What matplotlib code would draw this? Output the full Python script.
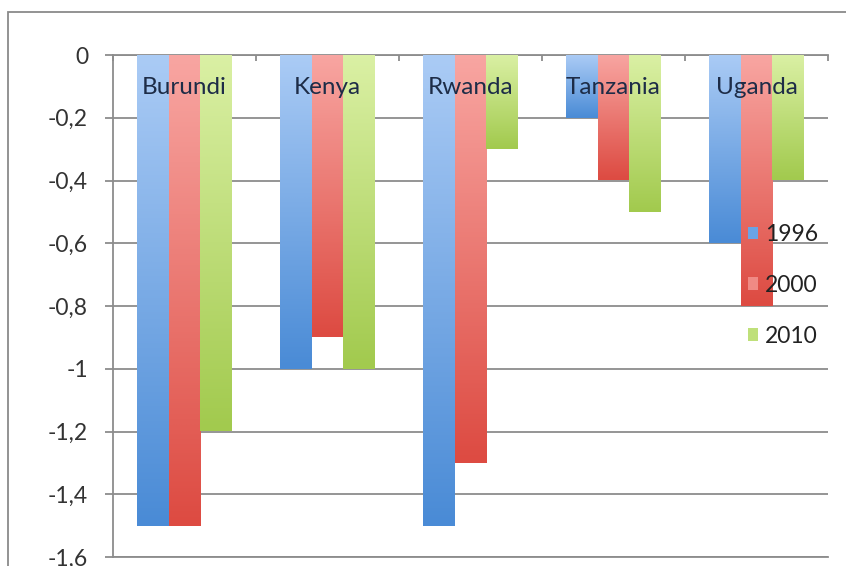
import numpy as np
import matplotlib.pyplot as plt
from matplotlib.colors import LinearSegmentedColormap
from matplotlib.patches import Rectangle, Patch

plt.rcParams['font.family'] = ['Lato', 'DejaVu Sans']

# change per country and year
countries = ["Burundi", "Kenya", "Rwanda", "Tanzania", "Uganda"]
years = ["1996", "2000", "2010"]
v1996 = [-1.5, -1.0, -1.5, -0.2, -0.6]
v2000 = [-1.5, -0.9, -1.3, -0.4, -0.8]
v2010 = [-1.2, -1.0, -0.3, -0.5, -0.4]
yticks = [0, -0.2, -0.4, -0.6, -0.8, -1.0, -1.2, -1.4, -1.6]

series = [v1996, v2000, v2010]
# (top, bottom) colours of each bar's gradient fill
fills = [("#aacbf5", "#4a8bd6"), ("#f8a5a1", "#dd4b42"), ("#daf0a4", "#a2ca4e")]
legend_colors = ["#6aa3e6", "#f08a84", "#bfe07a"]

fig = plt.figure(figsize=(8.46, 5.66), dpi=100)
ax = fig.add_axes([113/846, 1 - 557/566, (828 - 113)/846, (557 - 55)/566])

# chart frame
fig.patches.append(Rectangle((8/846, -0.2), 2, 1 - 12/566 + 0.2, transform=fig.transFigure,
                             fill=False, edgecolor="#8a8a8a", lw=1.3))

width = 1 / 4.5
x = np.arange(len(countries))
grad = np.linspace(0, 1, 64).reshape(-1, 1)
for s, vals in enumerate(series):
    cmap = LinearSegmentedColormap.from_list("f%d" % s, fills[s])
    for i, v in enumerate(vals):
        x0 = x[i] + (s - 1.5) * width
        ax.imshow(grad, cmap=cmap, extent=[x0, x0 + width, v, 0], origin="upper",
                  aspect="auto", interpolation="bicubic", zorder=3)

ax.set_xlim(-0.5, len(countries) - 0.5)
ax.set_ylim(-1.6, 0)

for i, name in enumerate(countries):
    ax.text(x[i], -0.105, name, ha="center", va="center", fontsize=17.5,
            color="#1d2c47", zorder=5)

ax.set_yticks(yticks)
ax.set_yticklabels([("%g" % t).replace(".", ",") for t in yticks])
ax.yaxis.grid(True, color="#8c8c8c", lw=1.3, zorder=1)
ax.set_axisbelow(True)
ax.tick_params(axis="y", length=6, width=1.3, color="#8c8c8c", pad=12,
               labelsize=16.5, labelcolor="#333333")

ax.set_xticks(np.arange(-0.5, len(countries)))
ax.set_xticklabels([])
ax.tick_params(axis="x", bottom=False, top=True, direction="in", length=4,
               width=1.3, color="#8c8c8c")
for side in ["left", "top", "bottom"]:
    ax.spines[side].set_color("#8c8c8c")
    ax.spines[side].set_linewidth(1.3)
ax.spines["right"].set_visible(False)

handles = [Patch(facecolor=c, edgecolor="none") for c in legend_colors]
ax.legend(handles, years, frameon=False, fontsize=16.5, labelcolor="#222222",
          loc="upper left", bbox_to_anchor=(748/846, 1 - 224/566),
          bbox_transform=fig.transFigure, borderpad=0, borderaxespad=0,
          handlelength=0.45, handleheight=0.45, handletextpad=0.3, labelspacing=1.3)

fig.savefig("out.png", dpi=100)
